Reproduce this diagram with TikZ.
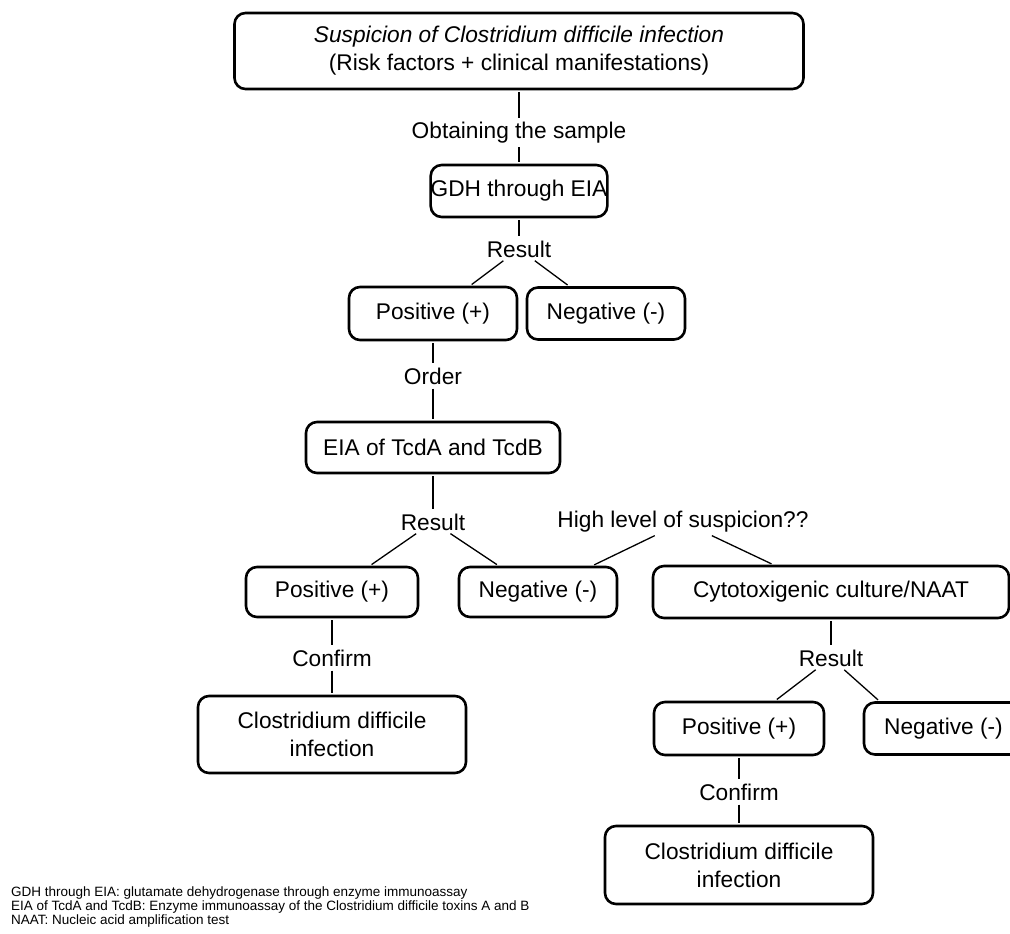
\documentclass[tikz,border=0pt]{standalone}
\usepackage{fontspec}
\setmainfont{Liberation Sans}
\usetikzlibrary{positioning}

\begin{document}
\begin{tikzpicture}[x=1pt, y=1pt, block/.style={rectangle, draw, rounded corners=11pt, line width=2.6pt, align=center, inner sep=0pt, font=\fontsize{22.7}{28}\selectfont}, textnode/.style={inner sep=2pt, font=\fontsize{22.7}{28}\selectfont}, wire/.style={line width=1.3pt, shorten >=2pt, shorten <=2pt}]

    \path[use as bounding box, clip] (0,0) rectangle (1010,-934);

    \node[block, minimum width=569pt, minimum height=76pt] (suspect) at (519,-51) {\textit{Suspicion of Clostridium difficile infection}\\(Risk factors + clinical manifestations)};
    \node[textnode, below of=suspect, node distance=81.5pt] (sample) {Obtaining the sample};
    \node[block, below of=sample, node distance=58.5pt, minimum width=175pt, minimum height=52pt] (gdh) {GDH through EIA};
    \node[textnode, below of=gdh, node distance=58pt] (res1) {Result};
    \node[block, below of=res1, node distance=64.5pt, xshift=-86pt, minimum width=168pt, minimum height=53pt] (pos1) {Positive (+)};
    \node[block, right of=pos1, node distance=173pt, minimum width=158pt, minimum height=52pt] (neg1) {Negative (-)};
    \node[textnode, below of=pos1, node distance=62.5pt] (order) {Order};
    \node[block, below of=order, node distance=71.5pt, minimum width=254pt, minimum height=51pt] (eia) {EIA of TcdA and TcdB};
    \node[textnode, below of=eia, node distance=74.5pt] (res2) {Result};
    \node[textnode, right of=res2, node distance=250pt] (hls) {High level of suspicion??};
    \node[block, below of=res2, node distance=70pt, xshift=-101pt, minimum width=172pt, minimum height=50pt] (pos2) {Positive (+)};
    \node[block, right of=pos2, node distance=206pt, minimum width=158pt, minimum height=50pt] (neg2) {Negative (-)};
    \node[block, right of=neg2, node distance=293pt, minimum width=356pt, minimum height=52pt] (cyto) {Cytotoxigenic culture/NAAT};
    \node[textnode, below of=pos2, node distance=66pt] (conf1) {Confirm};
    \node[block, below of=conf1, node distance=76.5pt, minimum width=268pt, minimum height=77pt] (cd1) {Clostridium difficile\\infection};
    \node[textnode, below of=cyto, node distance=66pt] (res3) {Result};
    \node[block, below of=res3, node distance=70.5pt, xshift=-92pt, minimum width=170pt, minimum height=53pt] (pos3) {Positive (+)};
    \node[block, right of=pos3, node distance=204.5pt, minimum width=159pt, minimum height=52pt] (neg3) {Negative (-)};
    \node[textnode, below of=pos3, node distance=63.5pt] (conf2) {Confirm};
    \node[block, below of=conf2, node distance=73pt, minimum width=268pt, minimum height=78pt] (cd2) {Clostridium difficile\\infection};
    \node[anchor=south west, inner sep=0pt, align=left, font=\fontsize{13.5}{11.7}\selectfont] (notes) at (11,-927) {GDH through EIA: glutamate dehydrogenase through enzyme immunoassay\\EIA of TcdA and TcdB: Enzyme immunoassay of the Clostridium difficile toxins A and B\\NAAT: Nucleic acid amplification test};

    \draw[wire] (suspect) -- (sample);
    \draw[wire] (sample) -- (gdh);
    \draw[wire] (gdh) -- (res1);
    \draw[wire] (res1) -- (pos1);
    \draw[wire] (res1) -- (neg1);
    \draw[wire] (pos1) -- (order);
    \draw[wire] (order) -- (eia);
    \draw[wire] (eia) -- (res2);
    \draw[wire] (res2) -- (pos2);
    \draw[wire] (res2) -- (neg2);
    \draw[wire] (hls) -- (neg2);
    \draw[wire] (hls) -- (cyto);
    \draw[wire] (pos2) -- (conf1);
    \draw[wire] (conf1) -- (cd1);
    \draw[wire] (cyto) -- (res3);
    \draw[wire] (res3) -- (pos3);
    \draw[wire] (res3) -- ([xshift=-64pt]neg3.north);
    \draw[wire] (pos3) -- (conf2);
    \draw[wire] (conf2) -- (cd2);

  \end{tikzpicture}
\end{document}
